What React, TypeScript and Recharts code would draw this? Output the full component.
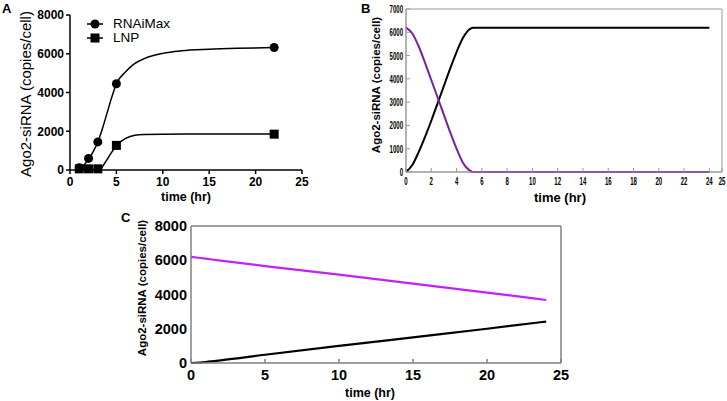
import React from 'react';
import { LineChart, Line, XAxis, YAxis, Legend, ReferenceArea } from 'recharts';

// Panel A – measured points
const timeA = [1, 2, 3, 5, 22];
const rnaimaxObs = [120, 600, 1450, 4450, 6320];
const lnpObs = [60, 60, 60, 1270, 1850];

// Panel A – fitted curves
const rnaimaxFitTime = [1, 1.5, 2, 2.5, 3, 3.5, 4, 4.5, 5, 6, 7, 8, 10, 12, 15, 18, 22];
const rnaimaxFit = [60, 250, 560, 950, 1450, 2150, 2950, 3750, 4450, 5070, 5500, 5750, 6020, 6150, 6230, 6280, 6320];
const lnpFitTime = [1, 2, 3, 3.3, 3.6, 4, 4.5, 5, 5.5, 6, 7, 8, 10, 15, 22];
const lnpFit = [20, 20, 20, 40, 250, 550, 920, 1270, 1480, 1630, 1790, 1830, 1850, 1855, 1860];

// Panel B – model, 0–24 h
const timeB = [0, 0.5, 1, 1.5, 2, 2.5, 3, 3.5, 4, 4.5, 5, 5.3, 6, 10, 15, 20, 24];
const boundB = [0, 300, 850, 1500, 2200, 2950, 3700, 4450, 5150, 5750, 6120, 6200, 6200, 6200, 6200, 6200, 6200];
const freeB = [6200, 5950, 5400, 4700, 3950, 3200, 2450, 1700, 1000, 400, 80, 0, 0, 0, 0, 0, 0];

// Panel C – model, slow loading
const timeC = [0, 1, 2, 5, 10, 15, 20, 24];
const boundC = [0, 60, 150, 480, 1000, 1500, 2000, 2420];
const freeC = [6200, 6090, 5980, 5660, 5160, 4640, 4110, 3680];

const ticksA_x = [0, 5, 10, 15, 20, 25];
const ticksA_y = [0, 2000, 4000, 6000, 8000];
const ticksB_x = [0, 2, 4, 6, 8, 10, 12, 14, 16, 18, 20, 22, 24, 25];
const ticksB_y = [0, 1000, 2000, 3000, 4000, 5000, 6000, 7000];
const ticksC_x = [0, 5, 10, 15, 20, 25];
const ticksC_y = [0, 2000, 4000, 6000, 8000];

const zip = (t: number[], v: number[]) => t.map((x, i) => ({ t: x, v: v[i] }));

const ARIAL = '"Liberation Sans", Arial, sans-serif';

const VLabel = ({ x, y, size, bold, children }: any) => (
  <div style={{
    position: 'absolute', left: x, top: y, transform: 'translate(-50%, -50%) rotate(-90deg)',
    whiteSpace: 'nowrap', fontSize: size, fontWeight: bold ? 'bold' : 'normal', lineHeight: 1,
  }}>{children}</div>
);

const HLabel = ({ x, y, size, bold, children }: any) => (
  <div style={{
    position: 'absolute', left: x, top: y, transform: 'translate(-50%, -50%)',
    whiteSpace: 'nowrap', fontSize: size, fontWeight: bold ? 'bold' : 'normal', lineHeight: 1,
  }}>{children}</div>
);

// condensed bold tick text like the MATLAB panel
const narrowTick = (vertical: boolean) => (props: any) => {
  const { x, y, payload, index } = props;
  return (
    <g key={`nt-${index}`} transform={`translate(${x},${y}) scale(0.55,1)`}>
      <text textAnchor={vertical ? 'end' : 'middle'} dy={vertical ? '0.36em' : '0.71em'} fontSize={11}
        fontWeight="bold" fontFamily={ARIAL} fill="#000">{payload.value}</text>
    </g>
  );
};

const SquareDot = (p: any) => (
  <rect key={`sq-${p.index}`} x={p.cx - 4.5} y={p.cy - 4.5} width={9} height={9} fill="#000" />
);

const LegendA = () => (
  <div style={{ fontFamily: ARIAL, fontSize: 13.5, lineHeight: '14px' }}>
    <div style={{ display: 'flex', alignItems: 'center', height: 14 }}>
      <svg width={26} height={12}><line x1={0} y1={6} x2={16} y2={6} stroke="#000" strokeWidth={1.5} /><circle cx={8} cy={6} r={4.5} fill="#000" /></svg>
      <span>RNAiMax</span>
    </div>
    <div style={{ display: 'flex', alignItems: 'center', height: 14 }}>
      <svg width={26} height={12}><line x1={0} y1={6} x2={16} y2={6} stroke="#000" strokeWidth={1.5} /><rect x={3.5} y={1.5} width={9} height={9} fill="#000" /></svg>
      <span>LNP</span>
    </div>
  </div>
);

const PanelA = () => {
  const tickStyle = { fontSize: 12, fontWeight: 'bold', fill: '#000', fontFamily: ARIAL };
  return (
    <div style={{ position: 'absolute', left: 0, top: 0, width: 310, height: 205 }}>
      <LineChart width={310} height={205} margin={{ top: 15, right: 8, bottom: 5, left: 0 }}>
        <XAxis dataKey="t" type="number" domain={[0, 25]} ticks={ticksA_x} height={30}
          stroke="#000" strokeWidth={1.5} tickSize={4} tickMargin={3} tick={tickStyle} />
        <YAxis type="number" domain={[0, 8000]} ticks={ticksA_y} width={70}
          stroke="#000" strokeWidth={1.5} tickSize={4} tickMargin={2} tick={tickStyle} />
        <Legend layout="vertical" align="center" verticalAlign="middle" content={<LegendA />}
          wrapperStyle={{ position: 'absolute', left: 87, top: 17, width: 100 }} />
        <Line data={zip(rnaimaxFitTime, rnaimaxFit)} dataKey="v" type="monotone" stroke="#000"
          strokeWidth={1.5} dot={false} isAnimationActive={false} />
        <Line data={zip(lnpFitTime, lnpFit)} dataKey="v" type="monotone" stroke="#000"
          strokeWidth={1.5} dot={false} isAnimationActive={false} />
        <Line data={zip(timeA, rnaimaxObs)} dataKey="v" stroke="none"
          dot={{ r: 4.5, fill: '#000', stroke: 'none' }} isAnimationActive={false} />
        <Line data={zip(timeA, lnpObs)} dataKey="v" stroke="none"
          dot={SquareDot} isAnimationActive={false} />
      </LineChart>
      <VLabel x={25} y={94} size={15}>Ago2-siRNA (copies/cell)</VLabel>
      <HLabel x={186} y={197} size={12.5} bold>time (hr)</HLabel>
    </div>
  );
};

// box frame drawn with a ReferenceArea over the whole domain
const PanelB = () => (
  <div style={{ position: 'absolute', left: 360, top: 0, width: 390, height: 205 }}>
    <LineChart width={390} height={205} margin={{ top: 9, right: 28, bottom: 3, left: 0 }}>
      <XAxis dataKey="t" type="number" domain={[0, 25]} ticks={ticksB_x} interval={0} minTickGap={0}
        height={30} stroke="#999" tickSize={-4} tickMargin={9} tick={narrowTick(false)} />
      <YAxis type="number" domain={[0, 7000]} ticks={ticksB_y} interval={0} width={46}
        stroke="#999" tickSize={-4} tickMargin={7} tick={narrowTick(true)} />
      <ReferenceArea x1={0} x2={25} y1={0} y2={7000} fill="none" stroke="#999" strokeWidth={1} />
      <Line data={zip(timeB, boundB)} dataKey="v" type="monotone" stroke="#000"
        strokeWidth={2} dot={false} isAnimationActive={false} />
      <Line data={zip(timeB, freeB)} dataKey="v" type="monotone" stroke="#7b1fa2"
        strokeWidth={2} dot={false} isAnimationActive={false} />
    </LineChart>
    <VLabel x={17} y={85} size={11.5} bold>Ago2-siRNA (copies/cell)</VLabel>
    <HLabel x={200} y={197} size={13} bold>time (hr)</HLabel>
  </div>
);

const PanelC = () => {
  const tickStyle = { fontSize: 14.5, fontWeight: 'bold', fill: '#000', fontFamily: ARIAL };
  return (
    <div style={{ position: 'absolute', left: 100, top: 205, width: 470, height: 196 }}>
      <LineChart width={470} height={196} margin={{ top: 20, right: 8, bottom: 8, left: 0 }}>
        <XAxis dataKey="t" type="number" domain={[0, 25]} ticks={ticksC_x} height={30}
          stroke="#808080" strokeWidth={1.5} tickSize={-4} tickMargin={11} tick={tickStyle} />
        <XAxis xAxisId="top" orientation="top" type="number" domain={[0, 25]} ticks={ticksC_x}
          height={1} stroke="#808080" strokeWidth={1.5} tickSize={-4} tick={false} />
        <YAxis type="number" domain={[0, 8000]} ticks={ticksC_y} width={91}
          stroke="#808080" strokeWidth={1.5} tickSize={0} tickLine={false} tickMargin={4} tick={tickStyle} />
        <YAxis yAxisId="right" orientation="right" type="number" domain={[0, 8000]}
          width={1} stroke="#808080" strokeWidth={1.5} tick={false} tickLine={false} />
        <Line data={zip(timeC, boundC)} dataKey="v" type="monotone" stroke="#000"
          strokeWidth={2.2} dot={false} isAnimationActive={false} />
        <Line data={zip(timeC, freeC)} dataKey="v" type="monotone" stroke="#c322f5"
          strokeWidth={2.2} dot={false} isAnimationActive={false} />
      </LineChart>
      <VLabel x={43} y={83} size={11.5} bold>Ago2-siRNA (copies/cell)</VLabel>
      <HLabel x={270} y={188} size={12.5} bold>time (hr)</HLabel>
    </div>
  );
};

export default function App() {
  return (
    <div style={{
      position: 'absolute', left: 0, top: 0, width: 727, height: 401, background: '#fff',
      fontFamily: ARIAL, color: '#000', overflow: 'hidden',
    }}>
      <PanelA />
      <PanelB />
      <PanelC />
      <div style={{ position: 'absolute', left: 2, top: 1, fontSize: 13, fontWeight: 'bold' }}>A</div>
      <div style={{ position: 'absolute', left: 361, top: 1, fontSize: 13, fontWeight: 'bold' }}>B</div>
      <div style={{ position: 'absolute', left: 121, top: 210, fontSize: 13, fontWeight: 'bold' }}>C</div>
    </div>
  );
}
